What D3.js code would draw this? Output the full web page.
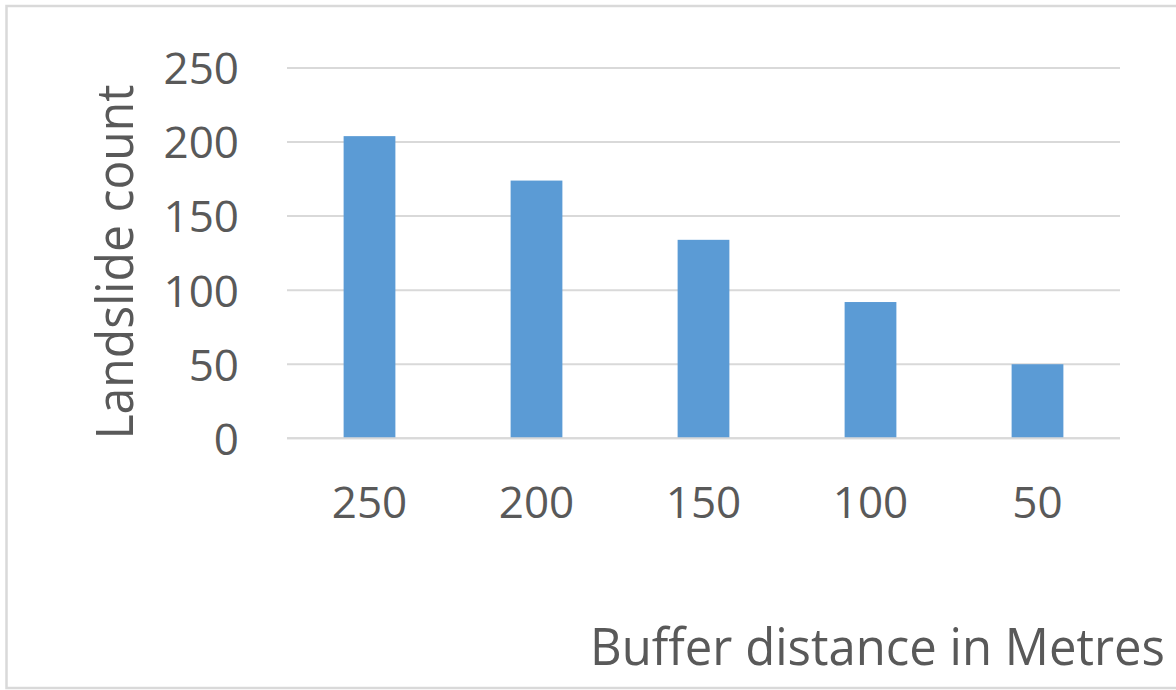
<!DOCTYPE html>
<html>
<head>
<meta charset="utf-8">
<script src="https://cdn.jsdelivr.net/npm/d3@7"></script>
<style>
  html, body { margin: 0; padding: 0; background: #fff; }
  svg { display: block; }
</style>
</head>
<body>
<svg id="chart" width="1176" height="690"></svg>
<script>
const categories = ["250", "200", "150", "100", "50"];
const landslideCount = [204, 174, 134, 92, 50];
const yTicks = [0, 50, 100, 150, 200, 250];
const xTitle = "Buffer distance in Metres";
const yTitle = "Landslide count";

const svg = d3.select("#chart");
const W = 1176, H = 690;
const font = "'Open Sans', sans-serif";
const textColor = "#595959";

// frame
svg.append("rect")
  .attr("x", 6.5).attr("y", 6).attr("width", W + 10).attr("height", 682)
  .attr("fill", "#fff").attr("stroke", "#d9d9d9").attr("stroke-width", 2.5);

const plot = { left: 286, right: 1121, top: 68, bottom: 438.3 };

const x = d3.scaleBand()
  .domain(categories)
  .range([plot.left, plot.right])
  .paddingInner(0.69)
  .paddingOuter(0.345);

const y = d3.scaleLinear()
  .domain([0, 250])
  .range([plot.bottom, plot.top]);

// gridlines
svg.append("g")
  .selectAll("line")
  .data(yTicks)
  .join("line")
  .attr("x1", 287).attr("x2", 1120)
  .attr("y1", d => y(d)).attr("y2", d => y(d))
  .attr("stroke", "#d9d9d9").attr("stroke-width", 2);

// bars
svg.append("g")
  .selectAll("rect")
  .data(landslideCount)
  .join("rect")
  .attr("x", (d, i) => x(categories[i]))
  .attr("width", x.bandwidth())
  .attr("y", d => y(d))
  .attr("height", d => y(0) - y(d))
  .attr("fill", "#5B9BD5");

// redraw baseline on top
svg.append("line")
  .attr("x1", 287).attr("x2", 1120)
  .attr("y1", y(0)).attr("y2", y(0))
  .attr("stroke", "#d9d9d9").attr("stroke-width", 2);

// y axis labels
const yAxis = d3.axisLeft(y).tickValues(yTicks).tickSize(0).tickPadding(0);
const yg = svg.append("g").attr("transform", "translate(239,0)").call(yAxis);
yg.select(".domain").remove();
yg.selectAll("text")
  .attr("font-family", font).attr("font-size", 44).attr("fill", textColor)
  .attr("dy", "0.36em");

// x axis labels
const xAxis = d3.axisBottom(x).tickSize(0).tickPadding(0);
const xg = svg.append("g").attr("transform", "translate(0,518)").call(xAxis);
xg.select(".domain").remove();
xg.selectAll("text")
  .attr("font-family", font).attr("font-size", 44).attr("fill", textColor)
  .attr("dy", 0);

// axis titles
svg.append("text")
  .attr("x", 1165).attr("y", 665)
  .attr("text-anchor", "end")
  .attr("font-family", font).attr("font-size", 52).attr("fill", textColor)
  .attr("textLength", 575).attr("lengthAdjust", "spacingAndGlyphs")
  .text(xTitle);

svg.append("text")
  .attr("transform", "translate(133,262) rotate(-90)")
  .attr("text-anchor", "middle")
  .attr("font-family", font).attr("font-size", 52).attr("fill", textColor)
  .attr("textLength", 355).attr("lengthAdjust", "spacingAndGlyphs")
  .text(yTitle);
</script>
</body>
</html>
